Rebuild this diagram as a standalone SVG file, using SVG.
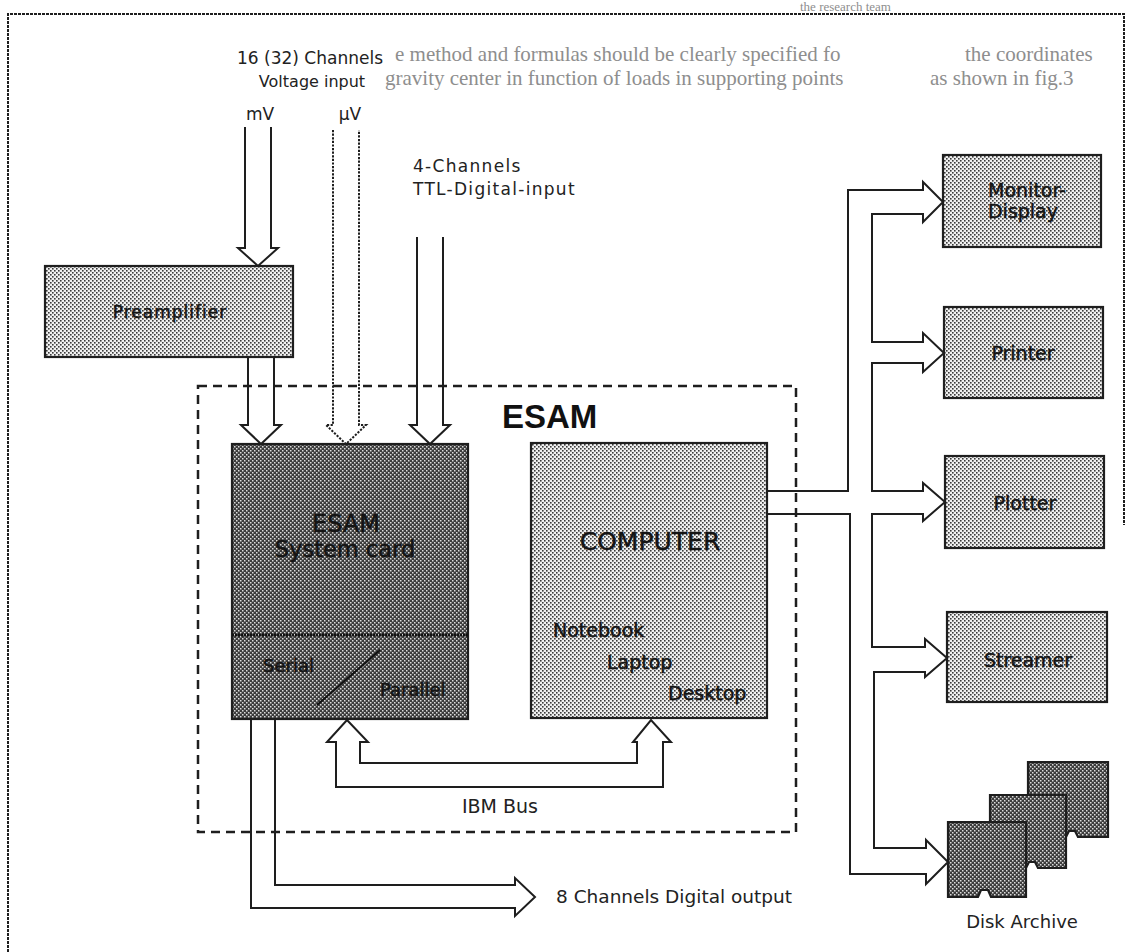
<svg xmlns="http://www.w3.org/2000/svg" width="1128" height="952" viewBox="0 0 1128 952">
<defs>
<pattern id="lt" width="4" height="4" patternUnits="userSpaceOnUse"><rect width="4" height="4" fill="#f0f0f0"/><rect x="0" y="0" width="1.6" height="1.6" fill="#3a3a3a"/><rect x="2" y="2" width="1.6" height="1.6" fill="#3a3a3a"/></pattern>
<pattern id="dk" width="4" height="4" patternUnits="userSpaceOnUse"><rect width="4" height="4" fill="#3c3c3c"/><rect x="0" y="0" width="1.5" height="1.5" fill="#dcdcdc"/><rect x="2" y="2" width="1.5" height="1.5" fill="#dcdcdc"/></pattern>
</defs>
<style>
.ln{fill:none;stroke:#1e1e1e;stroke-width:2;stroke-linejoin:miter}
.dot{stroke-dasharray:2.2 1.4}
.box{stroke:#1e1e1e;stroke-width:2.2}
.lt{fill:url(#lt)}
.dk{fill:url(#dk)}
.t{font-family:'DejaVu Sans',sans-serif;fill:#222}
.bt{font-family:'DejaVu Sans',sans-serif;fill:#141414;stroke:#141414;stroke-width:0.5}
.ghost{font-family:'Liberation Serif',serif;fill:#8e8e8e;font-size:21px}
.ghost-s{font-family:'Liberation Serif',serif;fill:#8e8e8e;font-size:13px}
</style>
<rect width="1128" height="952" fill="#fff"/>
<g id="bleed">
<text class="ghost-s" x="800" y="11">the research team</text>
<text class="ghost" x="395" y="61">e method and formulas should be clearly specified fo</text>
<text class="ghost" x="965" y="61">the coordinates</text>
<text class="ghost" x="385" y="85">gravity center in function of loads in supporting points</text>
<text class="ghost" x="930" y="85">as shown in fig.3</text>
</g>
<g id="frame"><path class="ln" d="M8,952 V14 H1124 V525" stroke-width="2.5" stroke-dasharray="3 1"/></g>
<g id="esam-boundary">
<rect x="198" y="386" width="598" height="446" fill="none" stroke="#1e1e1e" stroke-width="2.5" stroke-dasharray="9 6"/>
<text x="502" y="428" font-family="'Liberation Sans',Arial,sans-serif" font-weight="bold" font-size="33" fill="#111">ESAM</text>
</g>
<g id="labels-input">
<text class="t" x="310" y="64" font-size="17" text-anchor="middle">16 (32) Channels</text>
<text class="t" x="312" y="87" font-size="16" text-anchor="middle">Voltage input</text>
<text class="t" x="260" y="120" font-size="17" text-anchor="middle">mV</text>
<text class="t" x="350" y="120" font-size="17" text-anchor="middle">µV</text>
<text class="t" x="413" y="172" font-size="17" letter-spacing="1.3">4-Channels</text>
<text class="t" x="413" y="195" font-size="17" letter-spacing="1.3">TTL-Digital-input</text>
</g>
<g id="preamplifier">
<rect class="lt box" x="45" y="266" width="248" height="91"/>
<text class="bt" x="170" y="318" font-size="17" letter-spacing="1" text-anchor="middle">Preamplifier</text>
</g>
<g id="system-card">
<rect class="dk box" x="232" y="444" width="236" height="275"/>
<line x1="232" y1="635" x2="468" y2="635" stroke="#111" stroke-width="3" stroke-dasharray="2 1"/>
<text class="bt" x="346" y="532" font-size="24" text-anchor="middle">ESAM</text>
<text class="bt" x="345" y="557" font-size="22.5" text-anchor="middle">System card</text>
<text class="bt" x="263" y="672" font-size="18">Serial</text>
<text class="bt" x="380" y="696" font-size="18">Parallel</text>
<line x1="380" y1="650" x2="317" y2="705" stroke="#111" stroke-width="2"/>
</g>
<g id="computer">
<rect class="lt box" x="531" y="443" width="236" height="275"/>
<text class="bt" x="650" y="550" font-size="25" text-anchor="middle">COMPUTER</text>
<text class="bt" x="553" y="637" font-size="19">Notebook</text>
<text class="bt" x="607" y="669" font-size="19">Laptop</text>
<text class="bt" x="668" y="700" font-size="19">Desktop</text>
</g>
<g id="monitor">
<rect class="lt box" x="943" y="155" width="158" height="92"/>
<text class="bt" x="1027" y="197" font-size="19" text-anchor="middle">Monitor-</text>
<text class="bt" x="1023" y="218" font-size="19" text-anchor="middle">Display</text>
</g>
<g id="printer">
<rect class="lt box" x="944" y="307" width="159" height="91"/>
<text class="bt" x="1023" y="360" font-size="19" text-anchor="middle">Printer</text>
</g>
<g id="plotter">
<rect class="lt box" x="945" y="456" width="159" height="92"/>
<text class="bt" x="1025" y="510" font-size="19" text-anchor="middle">Plotter</text>
</g>
<g id="streamer">
<rect class="lt box" x="947" y="612" width="160" height="90"/>
<text class="bt" x="1028" y="667" font-size="19" text-anchor="middle">Streamer</text>
</g>
<g id="disk-archive">
<path class="dk box" d="M1028,762 H1108 V837 H1078 L1075,831 L1069,831 L1066,837 H1028 Z"/>
<path class="dk box" d="M990,795 H1066 V868 H1038 L1035,862 L1029,862 L1026,868 H990 Z"/>
<path class="dk box" d="M948,822 H1026 V897 H991 L988,890 L981,890 L978,897 H948 Z"/>
<text class="t" x="1022" y="928" font-size="18" text-anchor="middle" fill="#333">Disk Archive</text>
</g>
<g id="connectors">
<path class="ln" d="M245,127 V248 H238 L258,266 L278,248 H271 V127"/>
<path class="ln" d="M248,357 V425 H241 L261,444 L281,425 H274 V357"/>
<path class="ln dot" d="M333,130 V425 H326 L346,444 L366,425 H359 V130"/>
<path class="ln" d="M417,237 V425 H410 L430,444 L450,425 H443 V237"/>
<path class="ln" d="M767,491 H848 V190 H923 V182 L943,202 L923,222 V214 H872 V342 H923 V333 L944,353 L923,372 V363 H872 V491 H923 V483 L945,502 L923,521 V514 H872 V647 H925 V639 L947,658 L925,677 V672 H874 V848 H926 V840 L948,862 L926,884 V874 H850 V514 H767"/>
<path class="ln" d="M336,787 V742 H327 L347,720 L368,742 H360 V763 H637 V742 H633 L651,720 L671,742 H663 V787 Z"/>
<path class="ln" d="M251,719 V908 H515 V916 L535,897 L515,878 V885 H275 V719"/>
<text class="t" x="500" y="813" font-size="19" text-anchor="middle">IBM Bus</text>
<text class="t" x="556" y="903" font-size="18.5">8 Channels Digital output</text>
</g>
</svg>
